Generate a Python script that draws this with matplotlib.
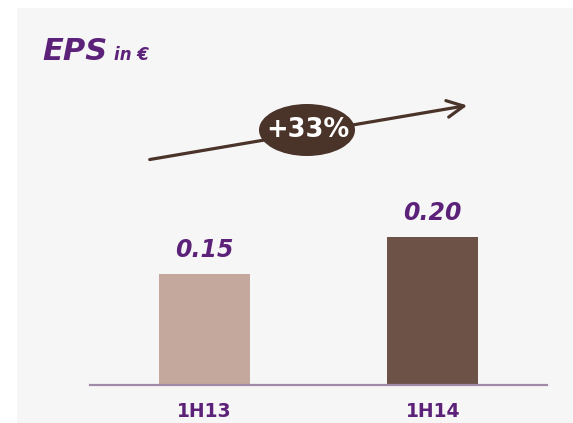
import matplotlib.pyplot as plt
from matplotlib.patches import Rectangle, Ellipse, FancyArrowPatch

# Data
periods = ['1H13', '1H14']
eps = [0.15, 0.20]
value_labels = ['0.15', '0.20']
growth_label = '+33%'

bar_colors = ['#c4a89d', '#6d5248']
purple = '#5c2178'
brown = '#4a3329'

W, H = 573, 423
fig = plt.figure(figsize=(W / 100, H / 100), dpi=100)
fig.patch.set_facecolor('white')

# light grey panel
fig.add_artist(Rectangle((17 / W, 0), (W - 17) / W, (H - 8) / H,
                         transform=fig.transFigure, facecolor='#f6f6f6',
                         edgecolor='none', zorder=0))

ax = fig.add_axes([90 / W, (H - 385) / H, 457 / W, 377 / H])
ax.set_facecolor('none')
x = range(len(periods))
ax.bar(x, eps, width=0.4, color=bar_colors, zorder=2)
ax.set_xlim(-0.5, 1.5)
ax.set_ylim(0, 377 / 740)

for s in ['top', 'right', 'left']:
    ax.spines[s].set_visible(False)
ax.spines['bottom'].set_color('#a08aa8')
ax.spines['bottom'].set_linewidth(1.6)
ax.set_yticks([])
ax.set_xticks(list(x))
ax.set_xticklabels(periods, fontsize=13.5, fontweight='bold', color=purple)
ax.tick_params(axis='x', length=0, pad=12)

for i, v in enumerate(eps):
    ax.annotate(value_labels[i], xy=(i, v), xytext=(0, 12), textcoords='offset points',
                ha='center', va='baseline', fontsize=17, fontweight='bold',
                fontstyle='italic', color=purple)

# title
fig.text(42 / W, (H - 60) / H, 'EPS', fontsize=22, fontweight='bold',
         fontstyle='italic', color=purple, va='baseline')
fig.text(114 / W, (H - 60) / H, 'in €', fontsize=12, fontweight='bold',
         fontstyle='italic', color=purple, va='baseline')

# growth arrow
arrow = FancyArrowPatch((147, H - 160), (470, H - 105), transform=None,
                        arrowstyle='->,head_length=12,head_width=6',
                        color=brown, linewidth=2.3, mutation_scale=1, zorder=3)
fig.add_artist(arrow)
fig.add_artist(Ellipse((307 / W, (H - 130) / H), 96 / W, 52 / H,
                       transform=fig.transFigure, facecolor=brown,
                       edgecolor='none', zorder=4))
fig.text(308 / W, (H - 130) / H, growth_label, fontsize=18.5, fontweight='bold',
         color='white', ha='center', va='center', zorder=5)

fig.savefig('out.png', dpi=100)
